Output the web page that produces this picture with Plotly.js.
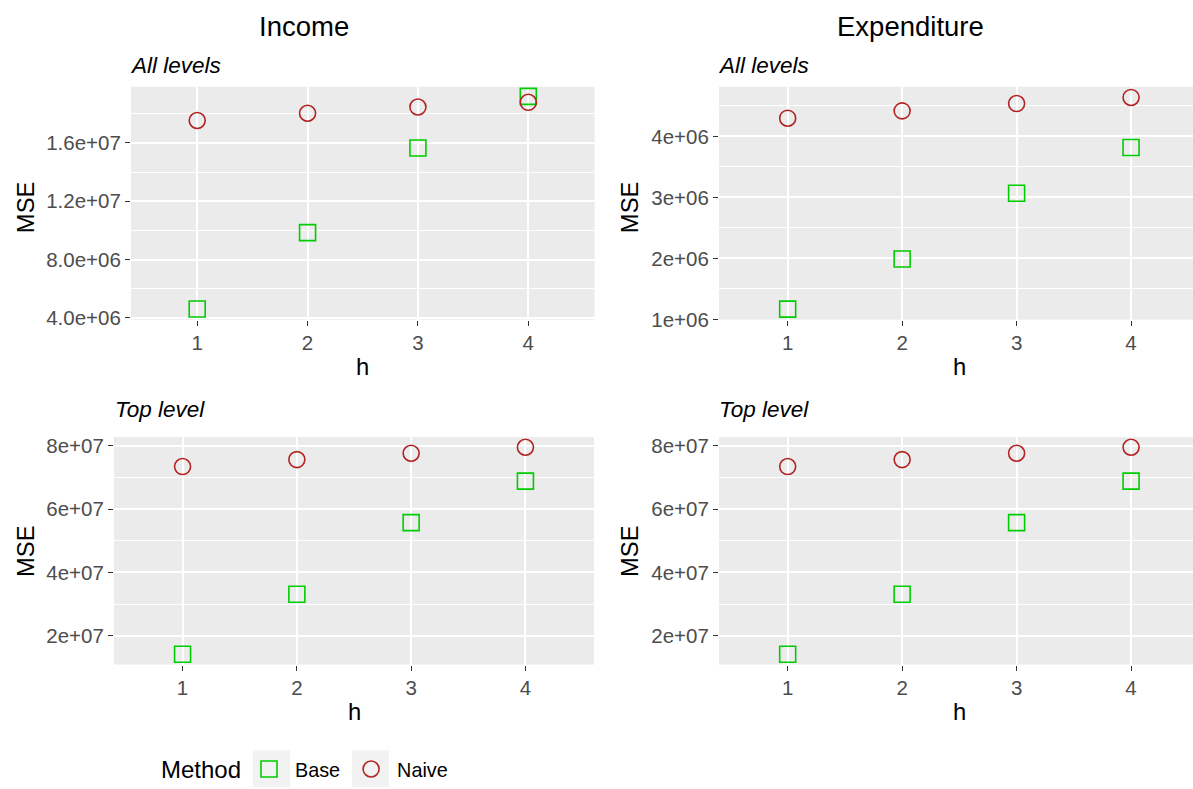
<!DOCTYPE html>
<html>
<head>
<meta charset="utf-8">
<script src="https://cdn.plot.ly/plotly-3.0.1.min.js"></script>
<style>html,body{margin:0;padding:0;background:#fff;}#chart{width:1193px;height:789px;}</style>
</head>
<body>
<div id="chart"></div>
<script>
// ---- data ----
const h = [1, 2, 3, 4];
const methods = ["Base", "Naive"];
const incomeAllBase   = [4.61e6, 9.85e6, 15.66e6, 19.20e6];
const incomeAllNaive  = [17.54e6, 18.04e6, 18.47e6, 18.79e6];
const expendAllBase   = [1.17e6, 1.99e6, 3.07e6, 3.82e6];
const expendAllNaive  = [4.30e6, 4.42e6, 4.54e6, 4.64e6];
const incomeTopBase   = [1.42e7, 3.31e7, 5.57e7, 6.88e7];
const incomeTopNaive  = [7.34e7, 7.56e7, 7.76e7, 7.95e7];
const expendTopBase   = [1.42e7, 3.31e7, 5.57e7, 6.88e7];
const expendTopNaive  = [7.34e7, 7.56e7, 7.76e7, 7.95e7];

const incAllTickVals = [4e6, 8e6, 1.2e7, 1.6e7];
const incAllTickText = ["4.0e+06", "8.0e+06", "1.2e+07", "1.6e+07"];
const expAllTickVals = [1e6, 2e6, 3e6, 4e6];
const expAllTickText = ["1e+06", "2e+06", "3e+06", "4e+06"];
const topTickVals = [2e7, 4e7, 6e7, 8e7];
const topTickText = ["2e+07", "4e+07", "6e+07", "8e+07"];
const hTickText = ["1", "2", "3", "4"];

const colTitles = ["Income", "Expenditure"];
const rowTitles = ["All levels", "Top level"];
const legendTitle = "Method";

// ---- styling ----
const W = 1193, H = 789;
const px = v => v / W;
const py = v => 1 - v / H;
const BASE_COL = "#00CD00";
const NAIVE_COL = "#B22222";
const FONT = "Liberation Sans, Arial, Helvetica, sans-serif";
const TICK_SIZE = 20.5;

function pts(xa, ya, y, name, sym, col, show) {
  return {
    type: "scatter", mode: "markers", x: h, y: y, xaxis: xa, yaxis: ya,
    name: name, legendgroup: name, showlegend: show,
    marker: {symbol: sym, size: 16, color: col, line: {color: col, width: 1.6}},
    hoverinfo: "x+y"
  };
}

const traces = [
  pts("x", "y", incomeAllBase, methods[0], "square-open", BASE_COL, true),
  pts("x", "y", incomeAllNaive, methods[1], "circle-open", NAIVE_COL, true),
  pts("x2", "y2", expendAllBase, methods[0], "square-open", BASE_COL, false),
  pts("x2", "y2", expendAllNaive, methods[1], "circle-open", NAIVE_COL, false),
  pts("x3", "y3", incomeTopBase, methods[0], "square-open", BASE_COL, false),
  pts("x3", "y3", incomeTopNaive, methods[1], "circle-open", NAIVE_COL, false),
  pts("x4", "y4", expendTopBase, methods[0], "square-open", BASE_COL, false),
  pts("x4", "y4", expendTopNaive, methods[1], "circle-open", NAIVE_COL, false)
];

function xax(dom, range, anchor) {
  return {
    domain: dom, range: range, anchor: anchor,
    tickmode: "array", tickvals: h, ticktext: hTickText,
    showgrid: true, gridcolor: "#FFFFFF", gridwidth: 2,
    zeroline: false, showline: false,
    ticks: "outside", ticklen: 5, tickwidth: 1.2, tickcolor: "#333333",
    tickfont: {family: FONT, size: TICK_SIZE, color: "#4D4D4D"},
    fixedrange: true
  };
}
function yax(dom, range, anchor, tv, tt, minorDt, minor0) {
  return {
    domain: dom, range: range, anchor: anchor,
    tickmode: "array", tickvals: tv, ticktext: tt,
    showgrid: true, gridcolor: "#FFFFFF", gridwidth: 2,
    minor: {dtick: minorDt, tick0: minor0, showgrid: true, gridcolor: "#FFFFFF", gridwidth: 1, ticks: ""},
    zeroline: false, showline: false,
    ticks: "outside", ticklen: 5, tickwidth: 1.2, tickcolor: "#333333",
    tickfont: {family: FONT, size: TICK_SIZE, color: "#4D4D4D"},
    fixedrange: true
  };
}

const topY = [py(322.5), py(87.5)];
const botY = [py(670.5), py(441)];

const layout = {
  width: W, height: H,
  margin: {l: 0, r: 0, t: 0, b: 0},
  paper_bgcolor: "#FFFFFF",
  plot_bgcolor: "#EBEBEB",
  font: {family: FONT, color: "#000000"},
  xaxis:  xax([px(131), px(594.5)], [0.4, 4.6], "y"),
  yaxis:  yax(topY, [3.88e6, 19.86e6], "x", incAllTickVals, incAllTickText, 4e6, 2e6),
  xaxis2: xax([px(719), 1], [0.4, 4.541], "y2"),
  yaxis2: yax(topY, [0.997e6, 4.816e6], "x2", expAllTickVals, expAllTickText, 1e6, 0.5e6),
  xaxis3: xax([px(114), px(594)], [0.4, 4.6], "y3"),
  yaxis3: yax(botY, [1.094e7, 8.27e7], "x3", topTickVals, topTickText, 2e7, 1e7),
  xaxis4: xax([px(719), 1], [0.4, 4.541], "y4"),
  yaxis4: yax(botY, [1.094e7, 8.27e7], "x4", topTickVals, topTickText, 2e7, 1e7),
  showlegend: true,
  legend: {
    orientation: "h", xref: "paper", yref: "paper",
    x: px(243), y: py(776), xanchor: "left", yanchor: "middle",
    bgcolor: "rgba(0,0,0,0)",
    itemwidth: 42,
    font: {family: FONT, size: 19.8, color: "#000000"},
    itemclick: false, itemdoubleclick: false
  },
  annotations: [],
  shapes: [
    {type: "rect", xref: "paper", yref: "paper", x0: px(253), x1: px(290), y0: py(794), y1: py(757),
     fillcolor: "#F2F2F2", line: {width: 0}, layer: "below"},
    {type: "rect", xref: "paper", yref: "paper", x0: px(352), x1: px(389), y0: py(794), y1: py(757),
     fillcolor: "#F2F2F2", line: {width: 0}, layer: "below"}
  ]
};

function ann(text, x, y, opts) {
  return Object.assign({
    text: text, xref: "paper", yref: "paper", x: px(x), y: py(y),
    showarrow: false, xanchor: "center", yanchor: "middle",
    font: {family: FONT, size: 23.8, color: "#000000"}
  }, opts || {});
}

const A = layout.annotations;
const SUB = {family: FONT, size: 22.5, color: "#000000"};
A.push(ann(colTitles[0], 304, 27, {font: {family: FONT, size: 27.5, color: "#000000"}}));
A.push(ann(colTitles[1], 910, 27, {font: {family: FONT, size: 27.5, color: "#000000"}}));
A.push(ann("<i>" + rowTitles[0] + "</i>", 128, 66, {xanchor: "left", font: SUB}));
A.push(ann("<i>" + rowTitles[0] + "</i>", 716, 66, {xanchor: "left", font: SUB}));
A.push(ann("<i>" + rowTitles[1] + "</i>", 113, 413, {xanchor: "left", font: SUB}));
A.push(ann("<i>" + rowTitles[1] + "</i>", 717, 413, {xanchor: "left", font: SUB}));
A.push(ann("MSE", 25, 209, {textangle: -90}));
A.push(ann("MSE", 629, 209, {textangle: -90}));
A.push(ann("MSE", 25, 556, {textangle: -90}));
A.push(ann("MSE", 629, 556, {textangle: -90}));
A.push(ann("h", 362.7, 370));
A.push(ann("h", 959, 370));
A.push(ann("h", 354, 718));
A.push(ann("h", 959, 718));
A.push(ann(legendTitle, 159, 776, {xanchor: "left", font: {family: FONT, size: 24, color: "#000000"}}));

Plotly.newPlot("chart", traces, layout, {displayModeBar: false, staticPlot: false});
</script>
</body>
</html>
